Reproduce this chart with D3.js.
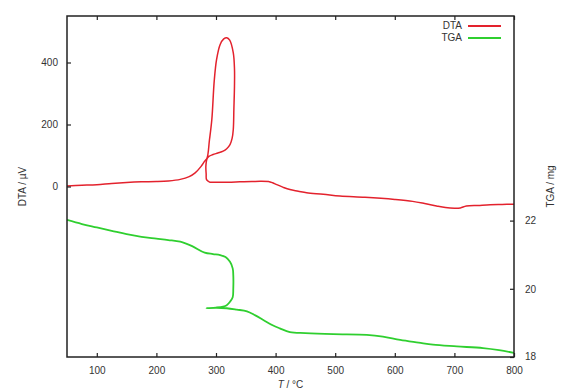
<!DOCTYPE html>
<html>
<head>
<meta charset="utf-8">
<script src="https://cdn.jsdelivr.net/npm/d3@7"></script>
<style>
  html, body { margin: 0; padding: 0; background: #fff; }
  svg text { font-family: "Liberation Sans", Arial, sans-serif; fill: #333; }
</style>
</head>
<body>
<svg id="chart" width="568" height="389"></svg>
<script>
// temperature ticks / axis ranges
var xTicks = [100, 200, 300, 400, 500, 600, 700, 800];
var dtaTicks = [0, 200, 400];
var tgaTicks = [18, 20, 22];

// DTA trace [T (°C), signal (µV)] in recording order (the loop is the self-heating exotherm)
var dtaPoints = [
    [50, 2], [75, 4], [100, 6], [125, 10], [150, 13], [175, 15], [200, 16], [220, 18],
    [240, 23], [255, 32], [265, 44], [275, 65], [281, 82], [285, 92], [289, 150],
    [293, 216], [297, 340], [301, 410], [307, 458], [313, 476], [318, 480], [323, 472],
    [329, 431], [331, 380], [331, 323], [330, 250], [329, 184], [327, 155], [323.5, 135],
    [318, 122], [312, 114], [303, 108], [295, 103], [288, 97], [285, 90], [283, 65],
    [283.5, 40], [284, 23], [287, 17], [290, 14], [300, 14], [320, 14], [340, 15],
    [360, 16], [374, 17], [388, 16], [395, 12], [402, 6], [412, -2], [424, -10],
    [438, -15], [452, -20], [480, -25], [508, -31], [550, -35], [600, -42], [630, -48],
    [650, -55], [670, -63], [685, -68], [700, -70], [710, -69], [720, -63], [740, -61],
    [760, -59], [780, -58], [800, -57]
];

// TGA trace [T (°C), mass (mg)]
var tgaPoints = [
    [50, 22.02], [75, 21.9], [100, 21.8], [125, 21.7], [150, 21.6], [175, 21.52],
    [200, 21.47], [220, 21.43], [240, 21.38], [260, 21.25], [281, 21.06], [295, 21.02],
    [307, 20.99], [316, 20.93], [323.5, 20.79], [328, 20.6], [329, 20.4], [329, 20.0],
    [328, 19.75], [323.5, 19.62], [318, 19.52], [312, 19.48], [300, 19.45], [284, 19.43],
    [300, 19.44], [318, 19.43], [335, 19.39], [352, 19.34], [366, 19.22], [380, 19.08],
    [395, 18.93], [407, 18.84], [424, 18.73], [450, 18.7], [497, 18.67], [553, 18.65],
    [580, 18.6], [609, 18.5], [640, 18.42], [664, 18.36], [704, 18.31], [748, 18.26],
    [775, 18.2], [800, 18.12]
];

var series = [
    { name: 'DTA', color: '#e3222d' },
    { name: 'TGA', color: '#2fcf2f' }
];

var margin = { top: 16, right: 54, bottom: 32, left: 67 };
var W = 568, H = 389;
var width = W - margin.left - margin.right;
var height = H - margin.top - margin.bottom;

var svg = d3.select('#chart');
var g = svg.append('g')
    .attr('transform', 'translate(' + margin.left + ',' + margin.top + ')');

var x = d3.scaleLinear().domain([50, 800]).range([0, width]);
var yDta = d3.scaleLinear().domain([-550, 550]).range([height, 0]);
var yTga = d3.scaleLinear().domain([18, 28]).range([height, 0]);

// clip region for the traces
svg.append('defs').append('clipPath').attr('id', 'clip-plot')
    .append('rect').attr('width', width).attr('height', height);

// draw the traces
var lineDta = d3.line()
    .x(function (d) { return x(d[0]); })
    .y(function (d) { return yDta(d[1]); })
    .curve(d3.curveCatmullRom.alpha(0.5));
var lineTga = d3.line()
    .x(function (d) { return x(d[0]); })
    .y(function (d) { return yTga(d[1]); })
    .curve(d3.curveCatmullRom.alpha(0.5));

g.append('path')
    .datum(dtaPoints)
    .attr('clip-path', 'url(#clip-plot)')
    .attr('d', lineDta)
    .attr('fill', 'none')
    .attr('stroke', series[0].color)
    .attr('stroke-width', 1.5);

g.append('path')
    .datum(tgaPoints)
    .attr('clip-path', 'url(#clip-plot)')
    .attr('d', lineTga)
    .attr('fill', 'none')
    .attr('stroke', series[1].color)
    .attr('stroke-width', 1.8);

// axes: ticks point inward, gnuplot style
function styleAxis(sel) {
    sel.select('.domain').remove();
    sel.selectAll('.tick line').attr('stroke', '#222').attr('stroke-width', 1.2);
    sel.selectAll('.tick text').attr('font-size', 10).attr('fill', '#333');
}

g.append('g')
    .attr('transform', 'translate(0,' + height + ')')
    .call(d3.axisBottom(x).tickValues(xTicks).tickSizeInner(-4).tickPadding(10))
    .call(styleAxis);

// mirrored x ticks at the top, no labels
g.append('g')
    .call(d3.axisTop(x).tickValues(xTicks).tickSizeInner(-4).tickFormat(''))
    .call(styleAxis);

g.append('g')
    .call(d3.axisLeft(yDta).tickValues(dtaTicks).tickSizeInner(-4).tickPadding(9))
    .call(styleAxis);

g.append('g')
    .attr('transform', 'translate(' + width + ',0)')
    .call(d3.axisRight(yTga).tickValues(tgaTicks).tickSizeInner(-4).tickPadding(11))
    .call(styleAxis);

// lift the bottom TGA label a touch so it sits beside the corner
g.selectAll('.tick text').filter(function (d) { return d === 18; })
    .attr('dy', '0.2em');

// frame
g.append('rect')
    .attr('width', width)
    .attr('height', height)
    .attr('fill', 'none')
    .attr('stroke', '#222')
    .attr('stroke-width', 1.5);

// axis titles
svg.append('text')
    .attr('transform', 'translate(23,' + (margin.top + height / 2) + ') rotate(-90)')
    .attr('text-anchor', 'middle')
    .attr('dominant-baseline', 'middle')
    .attr('font-size', 10)
    .text('DTA  / µV');

svg.append('text')
    .attr('transform', 'translate(551,' + (margin.top + height / 2) + ') rotate(-90)')
    .attr('text-anchor', 'middle')
    .attr('dominant-baseline', 'middle')
    .attr('font-size', 10)
    .text('TGA  / mg');

var xt = svg.append('text')
    .attr('x', margin.left + width / 2)
    .attr('y', 385)
    .attr('text-anchor', 'middle')
    .attr('dominant-baseline', 'middle')
    .attr('font-size', 10);
xt.append('tspan').attr('font-style', 'italic').text('T');
xt.append('tspan').text(' / °C');

// legend
var legend = g.append('g').attr('transform', 'translate(' + (width - 13) + ',10)');
series.forEach(function (s, i) {
    var row = legend.append('g').attr('transform', 'translate(0,' + (i * 12) + ')');
    row.append('text')
        .attr('x', -39)
        .attr('text-anchor', 'end')
        .attr('dominant-baseline', 'middle')
        .attr('font-size', 10)
        .text(s.name);
    row.append('line')
        .attr('x1', -33).attr('x2', 0)
        .attr('stroke', s.color)
        .attr('stroke-width', 1.8);
});
</script>
</body>
</html>
